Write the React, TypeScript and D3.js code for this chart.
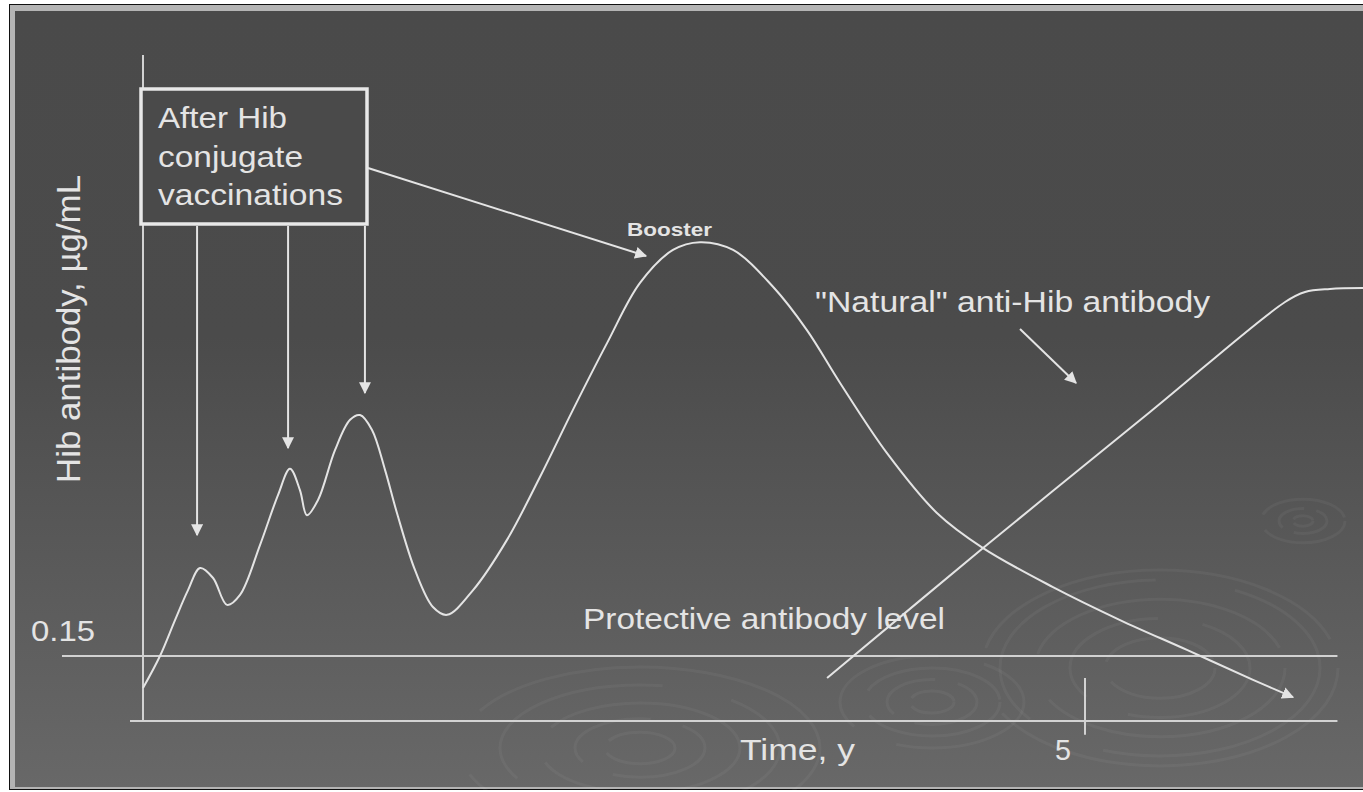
import * as d3 from 'd3'
import React, { useEffect, useRef } from 'react'

const W = 1363
const H = 792

// Hib antibody after conjugate vaccinations + booster (time in years, level in µg/mL-ish units)
const primaryTime = [
  0, 0.09, 0.17, 0.239, 0.303, 0.372, 0.446, 0.515, 0.621, 0.717, 0.78, 0.833, 0.87, 0.929, 1.019, 1.099,
  1.152, 1.215, 1.285, 1.348, 1.444, 1.539, 1.614, 1.752, 1.932, 2.107, 2.282, 2.463, 2.638, 2.813, 2.956,
  3.132, 3.344, 3.524, 3.7, 3.949, 4.214, 4.459, 4.83, 5.186, 5.541, 5.892, 6.104,
]
const primaryLevel = [
  0.076, 0.15, 0.233, 0.302, 0.353, 0.33, 0.268, 0.291, 0.406, 0.522, 0.582, 0.533, 0.475, 0.51, 0.625, 0.695,
  0.706, 0.672, 0.579, 0.48, 0.348, 0.263, 0.245, 0.302, 0.418, 0.563, 0.718, 0.872, 1.011, 1.087, 1.105,
  1.087, 1.002, 0.902, 0.78, 0.618, 0.48, 0.399, 0.309, 0.233, 0.164, 0.095, 0.055,
]

// "natural" anti-Hib antibody
const naturalTime = [3.631, 4.459, 5.345, 6.062, 6.168, 6.3, 6.476]
const naturalLevel = [0.099, 0.399, 0.713, 0.967, 0.99, 0.997, 0.999]

const vaccinationTimes = [0.287, 0.77, 1.178]
const vaccinationArrowTips = [0.429, 0.63, 0.757]
const protectiveLevel = 0.15
const xTicks = [5]
const yTicks = [0.15]

const boxLines = ['After Hib', 'conjugate', 'vaccinations']

const FONT = '"Liberation Sans", Arial, Helvetica, sans-serif'
const INK = '#e4e4e4'

// background ripples: [cx, cy, rx list, ry ratio]
const ripples: [number, number, number[], number][] = [
  [1303, 521, [10, 24, 42], 0.52],
  [1160, 668, [55, 90, 125, 160, 178], 0.55],
  [932, 702, [22, 45, 68, 92], 0.5],
  [640, 748, [35, 65, 100, 140, 180], 0.45],
]

export default function App() {
  const svgRef = useRef<SVGSVGElement | null>(null)

  useEffect(() => {
    const svg = d3.select(svgRef.current)
    svg.selectAll('*').remove()

    const x = d3.scaleLinear().domain([0, 5]).range([143, 1085])
    const y = d3.scaleLinear().domain([0, 1.5]).range([721, 71])

    const defs = svg.append('defs')
    const grad = defs
      .append('linearGradient')
      .attr('id', 'bg')
      .attr('x1', 0)
      .attr('y1', 0)
      .attr('x2', 0)
      .attr('y2', 1)
    grad.append('stop').attr('offset', 0).attr('stop-color', '#4a4a4a')
    grad.append('stop').attr('offset', 0.42).attr('stop-color', '#4b4b4b')
    grad.append('stop').attr('offset', 1).attr('stop-color', '#686868')

    defs
      .append('marker')
      .attr('id', 'head')
      .attr('viewBox', '0 0 10 10')
      .attr('refX', 9)
      .attr('refY', 5)
      .attr('markerWidth', 12)
      .attr('markerHeight', 12)
      .attr('markerUnits', 'userSpaceOnUse')
      .attr('orient', 'auto')
      .append('path')
      .attr('d', 'M0,0L10,5L0,10z')
      .attr('fill', INK)

    // frame
    svg.append('rect').attr('x', 9).attr('y', 4).attr('width', W).attr('height', 786).attr('fill', '#111')
    svg.append('rect').attr('x', 10).attr('y', 5).attr('width', W).attr('height', 784).attr('fill', '#b4b4b4')
    svg.append('rect').attr('x', 15).attr('y', 11).attr('width', W).attr('height', 776).attr('fill', 'url(#bg)')

    // ripples
    const rg = svg.append('g').attr('fill', 'none').attr('stroke', '#ffffff').attr('stroke-opacity', 0.045)
    ripples.forEach(([cx, cy, rs, k]) => {
      rs.forEach((r, i) => {
        rg.append('ellipse')
          .attr('cx', cx)
          .attr('cy', cy)
          .attr('rx', r)
          .attr('ry', r * k)
          .attr('stroke-width', 3)
          .attr('stroke-dasharray', i % 2 ? `${r * 1.6} ${r * 0.5}` : `${r * 2.2} ${r * 0.4}`)
      })
    })

    const text = (
      s: string,
      tx: number,
      ty: number,
      size: number,
      len: number,
      weight = 'normal',
    ) =>
      svg
        .append('text')
        .attr('x', tx)
        .attr('y', ty)
        .attr('font-family', FONT)
        .attr('font-size', size)
        .attr('font-weight', weight)
        .attr('fill', INK)
        .attr('textLength', len)
        .attr('lengthAdjust', 'spacingAndGlyphs')
        .text(s)

    // axes
    const axis = svg.append('g').attr('stroke', '#d2d2d2').attr('stroke-width', 2)
    axis.append('line').attr('x1', x(-0.069)).attr('x2', x(6.34)).attr('y1', y(0)).attr('y2', y(0))
    axis.append('line').attr('x1', x(0)).attr('x2', x(0)).attr('y1', y(0)).attr('y2', y(1.537))
    axis
      .selectAll('line.tick')
      .data(xTicks)
      .enter()
      .append('line')
      .attr('class', 'tick')
      .attr('x1', (d) => x(d))
      .attr('x2', (d) => x(d))
      .attr('y1', y(0.099))
      .attr('y2', y(-0.032))
    // protective level
    axis
      .append('line')
      .attr('x1', x(-0.43))
      .attr('x2', x(6.34))
      .attr('y1', y(protectiveLevel))
      .attr('y2', y(protectiveLevel))

    xTicks.forEach((t) => text(String(t), x(t) - 30, 760, 29, 16))
    yTicks.forEach((v) => text(String(v), 31, y(v) - 15, 29, 64))

    text('Protective antibody level', 583, 629, 29, 362)
    text('Time, y', 740, 760, 29, 115)
    text('"Natural" anti-Hib antibody', 815, 312, 29, 395)
    text('Booster', 627, 236, 19, 85, 'bold')

    svg
      .append('text')
      .attr('transform', `translate(80,${329}) rotate(-90)`)
      .attr('text-anchor', 'middle')
      .attr('font-family', FONT)
      .attr('font-size', 33)
      .attr('fill', INK)
      .attr('textLength', 308)
      .attr('lengthAdjust', 'spacingAndGlyphs')
      .text('Hib antibody, \u00b5g/mL')

    // curves
    const line = d3
      .line<[number, number]>()
      .x((d) => x(d[0]))
      .y((d) => y(d[1]))
      .curve(d3.curveCatmullRom.alpha(0.5))

    svg
      .append('path')
      .attr('d', line(primaryTime.map((t, i) => [t, primaryLevel[i]])))
      .attr('fill', 'none')
      .attr('stroke', INK)
      .attr('stroke-width', 2)
      .attr('marker-end', 'url(#head)')

    svg
      .append('path')
      .attr('d', line(naturalTime.map((t, i) => [t, naturalLevel[i]])))
      .attr('fill', 'none')
      .attr('stroke', INK)
      .attr('stroke-width', 2)

    // vaccination box + arrows
    svg
      .append('rect')
      .attr('x', 141)
      .attr('y', 89)
      .attr('width', 226)
      .attr('height', 135)
      .attr('fill', '#4a4a4a')
      .attr('stroke', '#e8e8e8')
      .attr('stroke-width', 3.5)
    text(boxLines[0], 158, 128, 29, 129)
    text(boxLines[1], 158, 167, 29, 145)
    text(boxLines[2], 158, 205, 29, 185)

    const arrows = svg.append('g').attr('stroke', INK).attr('stroke-width', 2)
    vaccinationTimes.forEach((t, i) => {
      arrows
        .append('line')
        .attr('x1', x(t))
        .attr('x2', x(t))
        .attr('y1', 226)
        .attr('y2', y(vaccinationArrowTips[i]))
        .attr('marker-end', 'url(#head)')
    })
    arrows
      .append('line')
      .attr('x1', 368)
      .attr('y1', 168)
      .attr('x2', 646)
      .attr('y2', 256)
      .attr('marker-end', 'url(#head)')
    arrows
      .append('line')
      .attr('x1', 1020)
      .attr('y1', 329)
      .attr('x2', 1076)
      .attr('y2', 383)
      .attr('marker-end', 'url(#head)')
  }, [])

  return (
    <svg
      ref={svgRef}
      width={W}
      height={H}
      style={{ position: 'absolute', left: 0, top: 0, display: 'block', background: '#fff' }}
    />
  )
}
